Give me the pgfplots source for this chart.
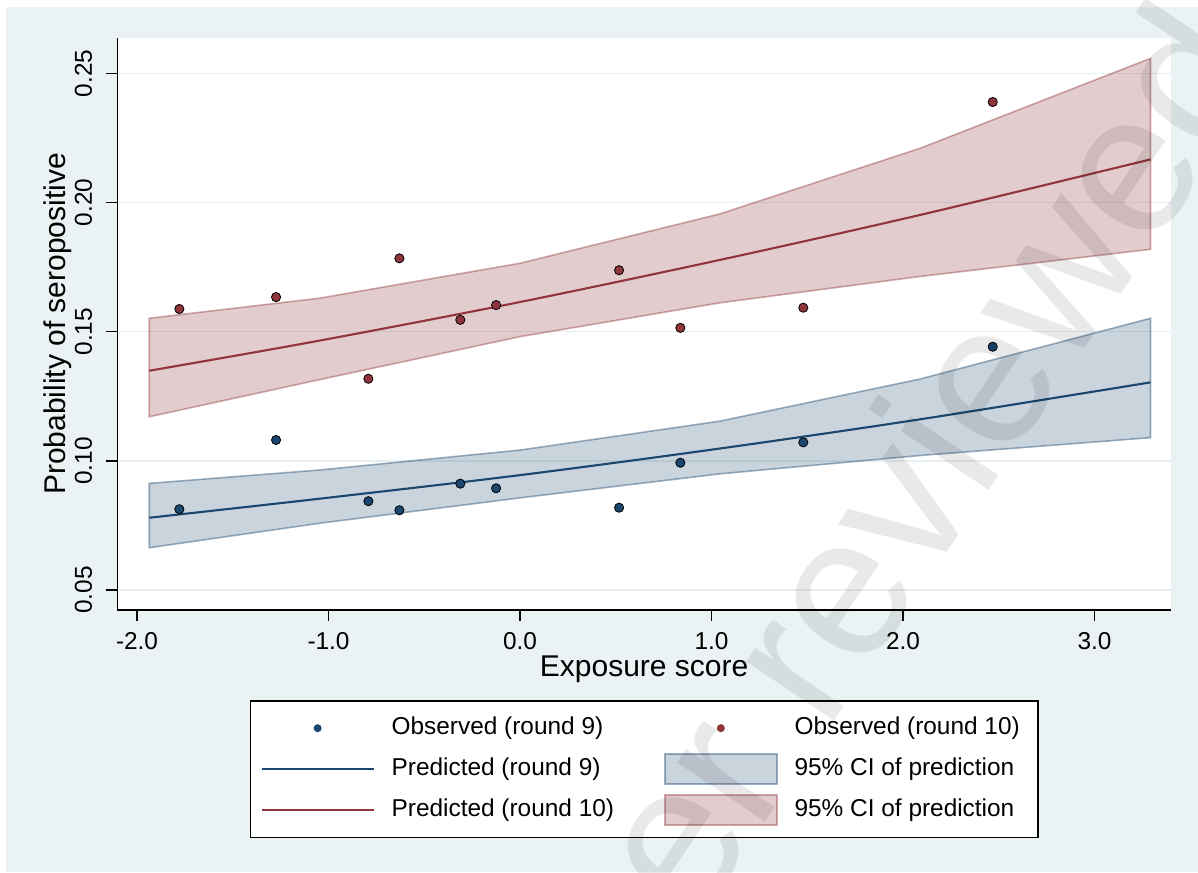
\documentclass[border=0pt]{standalone}
\usepackage{fontspec}
\setmainfont{Liberation Sans}
\usepackage{pgfplots}
\pgfplotsset{compat=1.18}
\definecolor{bgc}{HTML}{EAF2F3}
\definecolor{navy}{HTML}{1A476F}
\definecolor{maroon}{HTML}{90353B}
\definecolor{gridc}{HTML}{E6EFF1}
\begin{document}
\begin{tikzpicture}[x=1pt,y=1pt]
\useasboundingbox (0,0) rectangle (599,436);
\fill[white] (0,0) rectangle (599,436);
\fill[bgc] (3,0) rectangle (599,432.5);
\begin{axis}[
  at={(58.65pt,131pt)}, anchor=south west,
  scale only axis, width=526.85pt, height=286.15pt,
  xmin=-2.103, xmax=3.399, ymin=0.0423, ymax=0.2638,
  axis x line*=bottom, axis y line*=left,
  axis line style={line width=0.75pt, black, -},
  axis background/.style={fill=white},
  xtick={-2,-1,0,1,2,3}, ytick={0.05,0.10,0.15,0.20,0.25},
  tick align=outside, major tick length=5.5pt,
  tick style={line width=0.75pt, black},
  /pgf/number format/assume math mode=true,
  tick label style={font=\fontsize{12.2}{14}\selectfont},
  xticklabel style={yshift=-2pt, /pgf/number format/.cd, fixed, fixed zerofill, precision=1},
  yticklabel style={xshift=-3.5pt, /pgf/number format/.cd, fixed, fixed zerofill, precision=2, /tikz/.cd, rotate=90, anchor=south},
  ymajorgrids, major grid style={line width=0.75pt, gridc},
  xlabel={Exposure score}, ylabel={Probability of seropositive},
  label style={font=\fontsize{15}{18}\selectfont},
  xlabel style={at={(axis description cs:0.5,-0.117)}, anchor=base},
  ylabel style={at={(axis description cs:-0.0491,0.5)}, anchor=base},
  legend columns=2, legend cell align=left,
  legend style={at={(axis description cs:0.5,-0.1573)}, anchor=north, draw=black, line width=0.75pt, fill=white,
    font=\fontsize{12.2}{14}\selectfont, inner xsep=5pt, inner ysep=8pt,
    nodes={inner sep=0pt, text height=8.8pt, text depth=2.6pt},
    row sep=9.1pt, column sep=8.5pt,
    /tikz/every even column/.append style={column sep=25pt}},
]
% confidence bands
\addplot[fill=maroon, fill opacity=0.25, draw=maroon, draw opacity=0.42, line width=0.8pt, forget plot]
  coordinates {(-1.936,0.1552) (-1.044,0.1630) (0,0.1765) (1.044,0.1956) (2.089,0.2210) (3.292,0.2558)
               (3.292,0.1819) (2.089,0.1714) (1.044,0.1612) (0,0.1481) (-1.044,0.1315) (-1.936,0.1171)} -- cycle;
\addplot[fill=navy, fill opacity=0.23, draw=navy, draw opacity=0.42, line width=0.8pt, forget plot]
  coordinates {(-1.936,0.0913) (-1.044,0.0965) (0,0.1042) (1.044,0.1154) (2.089,0.1317) (3.292,0.1552)
               (3.292,0.1090) (2.089,0.1021) (1.044,0.0950) (0,0.0857) (-1.044,0.0759) (-1.936,0.0664)} -- cycle;
% predicted
\addplot[maroon, line width=1.05pt, smooth, forget plot]
  coordinates {(-1.936,0.1349) (-1.044,0.1466) (0,0.1615) (1.044,0.1778) (2.089,0.1952) (3.292,0.2167)};
\addplot[navy, line width=1.05pt, smooth, forget plot]
  coordinates {(-1.936,0.0780) (-1.044,0.0854) (0,0.0945) (1.044,0.1048) (2.089,0.1161) (3.292,0.1304)};
% observed
\addplot[only marks, mark=*, mark size=2.3pt, mark options={draw=none, fill=maroon}, forget plot]
  coordinates {(-1.779,0.1588) (-1.274,0.1634) (-0.792,0.1318) (-0.630,0.1784) (-0.312,0.1546)
               (-0.125,0.1603) (0.517,0.1738) (0.837,0.1515) (1.479,0.1593) (2.468,0.2389)};
\addplot[only marks, mark=*, mark size=2.3pt, mark options={draw=none, fill=navy}, forget plot]
  coordinates {(-1.779,0.0813) (-1.274,0.1081) (-0.792,0.0844) (-0.630,0.0809) (-0.312,0.0912)
               (-0.125,0.0894) (0.517,0.0819) (0.837,0.0993) (1.479,0.1072) (2.468,0.1442)};
% legend
\addlegendimage{legend image code/.code={\path (0pt,0pt) (56pt,0pt); \fill[navy] (28pt,0pt) circle (1.6pt);}}
\addlegendentry{Observed (round 9)}
\addlegendimage{legend image code/.code={\path (0pt,0pt) (56pt,0pt); \fill[maroon] (28pt,0pt) circle (1.6pt);}}
\addlegendentry{Observed (round 10)\kern4pt\null}
\addlegendimage{legend image code/.code={\draw[navy, line width=1.05pt] (0pt,0pt) -- (56pt,0pt);}}
\addlegendentry{Predicted (round 9)}
\addlegendimage{legend image code/.code={\path (0pt,0pt) (56pt,0pt); \draw[overlay, draw=navy, draw opacity=0.42, fill=navy, fill opacity=0.23, line width=1.2pt] (0pt,-7.5pt) rectangle (56pt,7.5pt);}}
\addlegendentry{95\% CI of prediction}
\addlegendimage{legend image code/.code={\draw[maroon, line width=1.05pt] (0pt,0pt) -- (56pt,0pt);}}
\addlegendentry{Predicted (round 10)}
\addlegendimage{legend image code/.code={\path (0pt,0pt) (56pt,0pt); \draw[overlay, draw=maroon, draw opacity=0.42, fill=maroon, fill opacity=0.25, line width=1.2pt] (0pt,-7.5pt) rectangle (56pt,7.5pt);}}
\addlegendentry{95\% CI of prediction}
\end{axis}
\node[rotate=56, anchor=base east, inner sep=0pt, text=black, text opacity=0.085, font=\fontsize{100}{100}\selectfont] at (637,402) {Not peer reviewed};
\end{tikzpicture}
\end{document}
